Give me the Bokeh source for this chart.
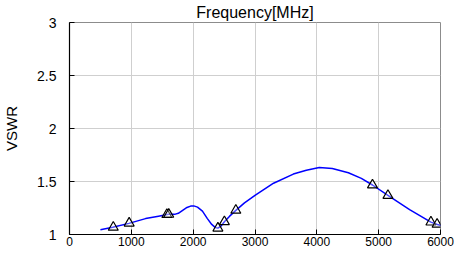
from bokeh.plotting import figure
from bokeh.models import FixedTicker
from bokeh.embed import file_html
from bokeh.resources import INLINE

# ---- data ----
freq_mhz = [500, 700, 960, 1230, 1440, 1600, 1700, 1760, 1830, 1900, 1960, 2010,
            2070, 2150, 2230, 2300, 2360, 2400, 2450, 2505, 2590, 2690, 2830,
            3000, 3300, 3620, 3830, 4040, 4250, 4510, 4720, 4900, 5150, 5500,
            5845, 5950, 6060]
vswr = [1.045, 1.068, 1.105, 1.15, 1.173, 1.19, 1.19, 1.2, 1.228, 1.255, 1.268,
        1.27, 1.258, 1.22, 1.15, 1.095, 1.065, 1.06, 1.08, 1.12, 1.173, 1.228,
        1.298, 1.37, 1.484, 1.57, 1.607, 1.632, 1.623, 1.582, 1.53, 1.467,
        1.368, 1.235, 1.117, 1.095, 1.075]

marker_freq = [708, 965, 1575, 1605, 2400, 2505, 2690, 4900, 5150, 5845, 5945]
marker_vswr = [1.068, 1.107, 1.188, 1.19, 1.06, 1.12, 1.228, 1.467, 1.368, 1.117, 1.096]

x_ticks = [0, 1000, 2000, 3000, 4000, 5000, 6000]
y_ticks = [1, 1.5, 2, 2.5, 3]
y_tick_labels = ["1", "1.5", "2", "2.5", "3"]
x_start, x_end = 0, 6000
y_start, y_end = 1, 3
title_text = "Frequency[MHz]"
y_label = "VSWR"

FONT = "Liberation Sans"

p = figure(width=454, height=248, x_range=(x_start, x_end), y_range=(y_start, y_end),
           output_backend="svg", toolbar_location=None, title=title_text,
           min_border_left=62, min_border_right=14, min_border_top=0,
           min_border_bottom=0)

p.background_fill_color = "white"
p.border_fill_color = "white"
p.outline_line_color = "#8c8c8c"
p.outline_line_width = 1

# title
p.title.align = "center"
p.title.text_font = FONT
p.title.text_font_size = "16px"
p.title.text_font_style = "normal"
p.title.text_color = "black"
p.title.standoff = 3
p.title.offset = 0

# grid
p.xgrid.ticker = FixedTicker(ticks=x_ticks)
p.ygrid.ticker = FixedTicker(ticks=y_ticks)
p.grid.grid_line_color = "#cfcfcf"
p.grid.grid_line_width = 1

# axes
p.xaxis.ticker = FixedTicker(ticks=x_ticks)
p.yaxis.ticker = FixedTicker(ticks=y_ticks)
p.yaxis.major_label_overrides = dict(zip(y_ticks, y_tick_labels))
for ax in (p.xaxis, p.yaxis):
    ax.axis_line_color = "black"
    ax.axis_line_width = 1.2
    ax.major_tick_line_color = "black"
    ax.major_tick_in = 5
    ax.major_tick_out = 0
    ax.minor_tick_line_color = None
    ax.major_label_text_font = FONT
    ax.major_label_text_color = "black"

p.xaxis.major_label_text_font_size = "12px"
p.xaxis.major_label_standoff = 2
p.yaxis.major_label_text_font_size = "14px"
p.yaxis.major_label_standoff = 13

p.yaxis.axis_label = y_label
p.yaxis.axis_label_text_font = FONT
p.yaxis.axis_label_text_font_size = "15px"
p.yaxis.axis_label_text_font_style = "normal"
p.yaxis.axis_label_text_color = "black"
p.yaxis.axis_label_standoff = 14

# curve and markers
p.line(freq_mhz, vswr, line_color="#0000ff", line_width=1.5)
p.scatter(marker_freq, marker_vswr, marker="triangle", size=10,
          fill_color="white", fill_alpha=0.3, line_color="black", line_width=1.2)

open("out.html", "w").write(file_html(p, INLINE))
